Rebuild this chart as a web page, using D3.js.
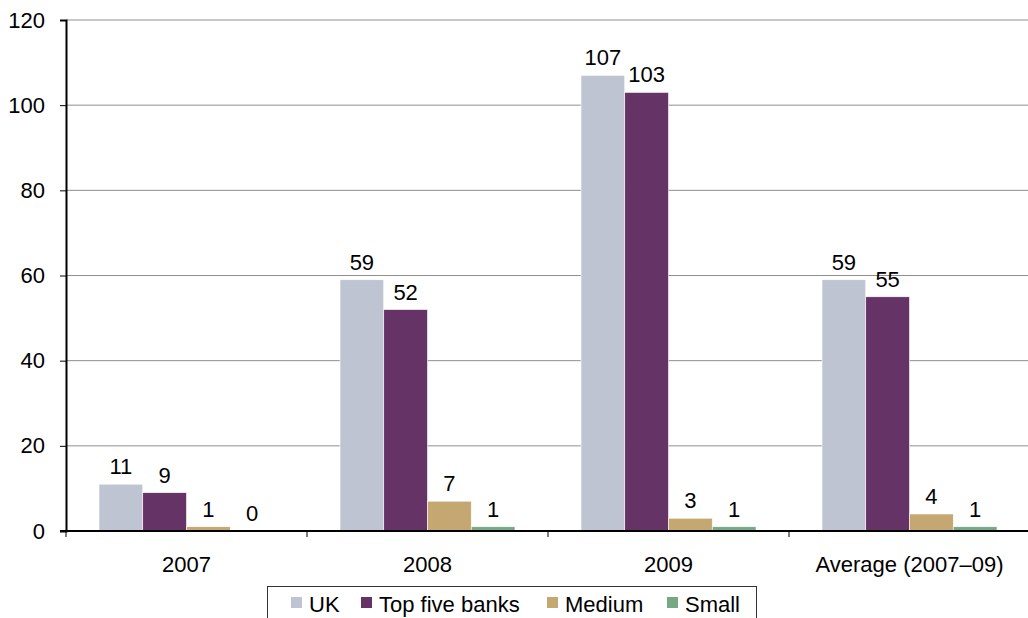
<!DOCTYPE html>
<html>
<head>
<meta charset="utf-8">
<script src="https://cdn.jsdelivr.net/npm/d3@7"></script>
<style>
  html, body { margin: 0; padding: 0; background: #fff; }
  svg { display: block; font-family: "Liberation Sans", Arial, sans-serif; }
</style>
</head>
<body>
<svg id="chart" width="1028" height="618"></svg>
<script>
// Categories and series
const categories = ["2007", "2008", "2009", "Average (2007\u201309)"];
const seriesNames = ["UK", "Top five banks", "Medium", "Small"];
const ukValues = [11, 59, 107, 59];
const topFiveValues = [9, 52, 103, 55];
const mediumValues = [1, 7, 3, 4];
const smallValues = [0, 1, 1, 1];
const yTicks = [0, 20, 40, 60, 80, 100, 120];
const colors = ["#bec4d1", "#663366", "#c4a771", "#76a883"];

const seriesValues = [ukValues, topFiveValues, mediumValues, smallValues];
const fontSize = 22;

const svg = d3.select("#chart");
const plotLeft = 66, plotRight = 1030, plotTop = 20, plotBottom = 531;

const x0 = d3.scaleBand().domain(categories).range([plotLeft, plotRight]).padding(0);
const groupPad = 33;
const x1 = d3.scaleBand().domain(seriesNames)
  .range([groupPad, x0.bandwidth() - groupPad]).padding(0);
const y = d3.scaleLinear().domain([0, 120]).range([plotBottom, plotTop]);

// Gridlines
svg.append("g")
  .selectAll("line")
  .data(yTicks.filter(d => d > 0))
  .join("line")
  .attr("x1", plotLeft).attr("x2", plotRight)
  .attr("y1", d => y(d)).attr("y2", d => y(d))
  .attr("stroke", "#8f8f8f").attr("stroke-width", 1);

// Bars
const groups = svg.append("g")
  .selectAll("g")
  .data(categories)
  .join("g")
  .attr("transform", d => `translate(${x0(d)},0)`);

groups.selectAll("rect")
  .data((c, i) => seriesNames.map((s, j) => ({ s, v: seriesValues[j][i], j })))
  .join("rect")
  .attr("x", d => x1(d.s))
  .attr("width", x1.bandwidth())
  .attr("y", d => y(d.v))
  .attr("height", d => plotBottom - y(d.v))
  .attr("fill", d => colors[d.j])
  .attr("stroke", "#ffffff")
  .attr("stroke-width", 0.6);

// Value labels
groups.selectAll("text")
  .data((c, i) => seriesNames.map((s, j) => ({ s, v: seriesValues[j][i] })))
  .join("text")
  .attr("x", d => x1(d.s) + x1.bandwidth() / 2)
  .attr("y", d => y(d.v) - 10)
  .attr("text-anchor", "middle")
  .attr("font-size", fontSize)
  .attr("fill", "#000")
  .text(d => d.v);

// Y axis
const yAxis = d3.axisLeft(y).tickValues(yTicks).tickSize(6).tickPadding(15);
const gy = svg.append("g").attr("transform", `translate(${plotLeft},0)`).call(yAxis);
gy.select(".domain").attr("stroke", "#000").attr("stroke-width", 2);
gy.selectAll(".tick line").attr("stroke", "#000").attr("stroke-width", 1);
gy.selectAll(".tick text").attr("font-size", fontSize).attr("fill", "#000")
  .attr("font-family", "Liberation Sans, Arial, sans-serif");

// X axis
const xAxis = d3.axisBottom(x0).tickSize(0).tickPadding(25);
const gx = svg.append("g").attr("transform", `translate(0,${plotBottom})`).call(xAxis);
gx.select(".domain").remove();
gx.selectAll(".tick text").attr("font-size", fontSize).attr("fill", "#000")
  .attr("font-family", "Liberation Sans, Arial, sans-serif");
svg.append("line")
  .attr("x1", plotLeft - 6).attr("x2", plotRight)
  .attr("y1", plotBottom).attr("y2", plotBottom)
  .attr("stroke", "#000").attr("stroke-width", 2);
// Category separator ticks
const sepX = categories.map(c => x0(c));
svg.append("g").selectAll("line")
  .data(sepX)
  .join("line")
  .attr("x1", d => d).attr("x2", d => d)
  .attr("y1", plotBottom).attr("y2", plotBottom + 6)
  .attr("stroke", "#000").attr("stroke-width", 1);

// Legend
const legend = svg.append("g");
legend.append("rect")
  .attr("x", 267.5).attr("y", 586.5)
  .attr("width", 489).attr("height", 40)
  .attr("fill", "#fff").attr("stroke", "#333").attr("stroke-width", 1);
const legendX = [291, 361, 547, 667];
seriesNames.forEach((s, i) => {
  legend.append("rect")
    .attr("x", legendX[i]).attr("y", 597)
    .attr("width", 11).attr("height", 11)
    .attr("fill", colors[i]);
  legend.append("text")
    .attr("x", legendX[i] + 18).attr("y", 612)
    .attr("font-size", fontSize).attr("fill", "#000")
    .text(s);
});
</script>
</body>
</html>
